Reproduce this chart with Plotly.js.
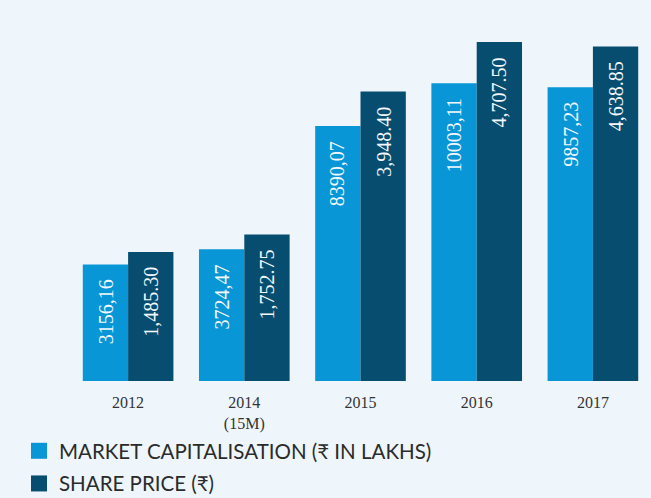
<!DOCTYPE html>
<html>
<head>
<meta charset="utf-8">
<script src="https://cdn.plot.ly/plotly-3.0.1.min.js"></script>
<style>html,body{margin:0;padding:0;background:#eef6fc;}</style>
</head>
<body>
<div id="chart" style="width:651px;height:498px;"></div>
<script>
// ---- data ----
const categories = ['2012', '2014<br>(15M)', '2015', '2016', '2017'];
const marketCap = [3156.16, 3724.47, 8390.07, 10003.11, 9857.23];
const sharePrice = [1485.30, 1752.75, 3948.40, 4707.50, 4638.85];
const marketCapLabels = ['3156,16', '3724,47', '8390,07', '10003,11', '9857,23'];
const sharePriceLabels = ['1,485.30', '1,752.75', '3,948.40', '4,707.50', '4,638.85'];
const seriesNames = ['MARKET CAPITALISATION (₹ IN LAKHS)', 'SHARE PRICE (₹)'];

// ---- styling / axis scaling ----
const LIGHT = '#0896d6';
const DARK = '#064d6f';
const MC_FLOOR = -1252, MC_TOP = 12396;
const SP_FLOOR = -494, SP_TOP = 5046;
const BW = 0.39;
const SERIF = '"Liberation Serif", serif';
const SANS = 'Lato, sans-serif';

const traces = [
  {
    type: 'bar', x: categories, y: marketCap.map(v => v - MC_FLOOR), base: MC_FLOOR,
    width: BW, offset: -BW, marker: {color: LIGHT}, yaxis: 'y', showlegend: false,
    customdata: marketCap, hovertemplate: '%{customdata}<extra></extra>'
  },
  {
    type: 'bar', x: categories, y: sharePrice.map(v => v - SP_FLOOR), base: SP_FLOOR,
    width: BW, offset: 0, marker: {color: DARK}, yaxis: 'y2', showlegend: false,
    customdata: sharePrice, hovertemplate: '%{customdata}<extra></extra>'
  },
  {
    type: 'scatter', mode: 'markers', x: [null], y: [null], name: seriesNames[0],
    marker: {symbol: 'square', size: 16, color: LIGHT}, legendgroup: 'a'
  },
  {
    type: 'scatter', mode: 'markers', x: [null], y: [null], name: seriesNames[1],
    marker: {symbol: 'square', size: 16, color: DARK}, legendgroup: 'b'
  }
];

const annotations = [];
categories.forEach((c, i) => {
  annotations.push({
    x: i, y: marketCap[i], xref: 'x', yref: 'y', text: marketCapLabels[i],
    textangle: -90, xanchor: 'center', yanchor: 'top', xshift: -22.7, yshift: -13,
    showarrow: false, font: {family: SERIF, size: 20, color: '#f2f8fc'}
  });
  annotations.push({
    x: i, y: sharePrice[i], xref: 'x', yref: 'y2', text: sharePriceLabels[i],
    textangle: -90, xanchor: 'center', yanchor: 'top', xshift: 22.7, yshift: -13,
    showarrow: false, font: {family: SERIF, size: 20, color: '#f2f8fc'}
  });
});

const layout = {
  width: 651, height: 498,
  margin: {l: 70, r: 0, t: 20, b: 117, autoexpand: false},
  paper_bgcolor: '#eef6fc', plot_bgcolor: '#eef6fc',
  showlegend: true,
  legend: {
    x: -0.0878, y: -0.1384, xref: 'paper', yref: 'paper', xanchor: 'left', yanchor: 'top',
    orientation: 'v', font: {family: SANS, size: 20.5, color: '#2b2b2b'},
    tracegroupgap: 3, bgcolor: 'rgba(0,0,0,0)', itemsizing: 'trace'
  },
  xaxis: {
    type: 'category', range: [-0.5, 4.5], showgrid: false, zeroline: false, showline: false,
    ticks: '', tickfont: {family: SERIF, size: 16, color: '#333333'}, ticklabelstandoff: 10,
    fixedrange: true
  },
  yaxis: {range: [MC_FLOOR, MC_TOP], visible: false, fixedrange: true},
  yaxis2: {range: [SP_FLOOR, SP_TOP], visible: false, overlaying: 'y', fixedrange: true},
  annotations: annotations,
  hovermode: 'closest'
};

Plotly.newPlot('chart', traces, layout, {displayModeBar: false});
</script>
</body>
</html>
